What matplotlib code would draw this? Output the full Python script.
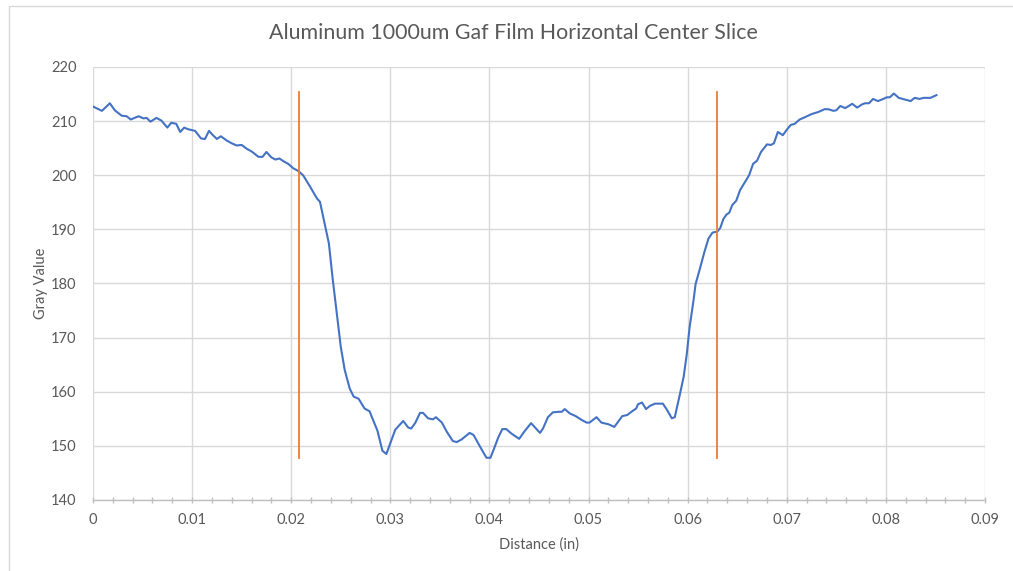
import numpy as np
import matplotlib
matplotlib.use("Agg")
import matplotlib.pyplot as plt
from matplotlib.patches import Rectangle
from matplotlib.ticker import MultipleLocator

plt.rcParams['font.family'] = ['Lato', 'DejaVu Sans']

# profile along the horizontal center line (distance in inches, gray value)
distance = [
    0.0000, 0.0009, 0.0017, 0.0022, 0.0029, 0.0034, 0.0038, 0.0046, 0.0051, 0.0054,
    0.0058, 0.0064, 0.0069, 0.0075, 0.0079, 0.0084, 0.0088, 0.0092, 0.0096, 0.0103,
    0.0109, 0.0113, 0.0117, 0.0121, 0.0125, 0.0129, 0.0135, 0.0140, 0.0145, 0.0150,
    0.0155, 0.0160, 0.0167, 0.0171, 0.0175, 0.0180, 0.0184, 0.0188, 0.0193, 0.0197,
    0.0202, 0.0207, 0.0212, 0.0219, 0.0226, 0.0229, 0.0234, 0.0238, 0.0242, 0.0246,
    0.0250, 0.0254, 0.0259, 0.0263, 0.0268, 0.0274, 0.0279, 0.0287, 0.0292, 0.0296,
    0.0305, 0.0313, 0.0318, 0.0321, 0.0325, 0.0330, 0.0333, 0.0338, 0.0343, 0.0346,
    0.0352, 0.0357, 0.0363, 0.0367, 0.0372, 0.0380, 0.0384, 0.0391, 0.0397, 0.0401,
    0.0404, 0.0409, 0.0413, 0.0417, 0.0422, 0.0430, 0.0435, 0.0442, 0.0447, 0.0451,
    0.0454, 0.0459, 0.0464, 0.0470, 0.0473, 0.0476, 0.0481, 0.0487, 0.0493, 0.0498,
    0.0501, 0.0508, 0.0513, 0.0520, 0.0526, 0.0530, 0.0534, 0.0539, 0.0544, 0.0548,
    0.0550, 0.0554, 0.0558, 0.0562, 0.0567, 0.0575, 0.0579, 0.0584, 0.0587, 0.0592,
    0.0596, 0.0599, 0.0602, 0.0606, 0.0608, 0.0612, 0.0617, 0.0621, 0.0625, 0.0630,
    0.0633, 0.0636, 0.0639, 0.0642, 0.0645, 0.0649, 0.0653, 0.0658, 0.0662, 0.0666,
    0.0670, 0.0674, 0.0680, 0.0684, 0.0687, 0.0691, 0.0696, 0.0700, 0.0704, 0.0708,
    0.0713, 0.0718, 0.0725, 0.0732, 0.0738, 0.0742, 0.0747, 0.0750, 0.0754, 0.0759,
    0.0766, 0.0771, 0.0776, 0.0779, 0.0783, 0.0787, 0.0792, 0.0796, 0.0801, 0.0804,
    0.0808, 0.0813, 0.0819, 0.0825, 0.0829, 0.0834, 0.0838, 0.0845, 0.0851,
]
gray_value = [
    212.7, 211.9, 213.3, 212.0, 211.0, 210.9, 210.3, 210.9, 210.5, 210.6,
    209.9, 210.6, 210.1, 208.8, 209.7, 209.5, 208.0, 208.8, 208.5, 208.2,
    206.8, 206.7, 208.2, 207.4, 206.7, 207.2, 206.4, 205.9, 205.5, 205.6,
    204.9, 204.4, 203.4, 203.4, 204.3, 203.3, 202.9, 203.1, 202.5, 202.1,
    201.3, 200.8, 200.0, 197.9, 195.7, 195.1, 190.8, 187.4, 180.6, 174.5,
    168.3, 164.0, 160.6, 159.1, 158.7, 156.9, 156.4, 152.8, 149.1, 148.5,
    153.0, 154.6, 153.4, 153.2, 154.2, 156.1, 156.1, 155.1, 154.9, 155.3,
    154.3, 152.6, 150.9, 150.7, 151.2, 152.4, 152.0, 149.7, 147.8, 147.8,
    149.2, 151.6, 153.1, 153.1, 152.3, 151.3, 152.6, 154.2, 153.2, 152.4,
    153.2, 155.3, 156.2, 156.3, 156.3, 156.8, 156.0, 155.5, 154.8, 154.3,
    154.3, 155.3, 154.3, 154.0, 153.5, 154.5, 155.5, 155.7, 156.4, 156.9,
    157.7, 158.0, 156.8, 157.4, 157.8, 157.8, 156.7, 155.1, 155.3, 159.4,
    162.8, 166.8, 172.0, 177.0, 179.9, 182.5, 185.9, 188.3, 189.4, 189.6,
    190.3, 191.9, 192.7, 193.1, 194.5, 195.3, 197.3, 198.8, 200.0, 202.1,
    202.7, 204.3, 205.7, 205.6, 205.9, 208.0, 207.4, 208.4, 209.3, 209.5,
    210.3, 210.7, 211.3, 211.7, 212.2, 212.2, 211.9, 212.0, 212.8, 212.4,
    213.2, 212.5, 213.1, 213.3, 213.3, 214.1, 213.7, 214.0, 214.4, 214.4,
    215.1, 214.3, 214.0, 213.7, 214.3, 214.1, 214.3, 214.3, 214.8,
]

# vertical markers for the film edges
edge_x = [0.0208, 0.0630]
edge_low = 147.7
edge_high = 215.3

BLUE = '#4472C4'
ORANGE = '#ED7D31'
TEXT = '#595959'
GRID = '#D9D9D9'

fig = plt.figure(figsize=(10.13, 5.71), dpi=100)
ax = fig.add_axes([93 / 1013, 1 - 500 / 571, 892 / 1013, 433 / 571])

# outer chart border
fig.patches.append(Rectangle((9 / 1013, -0.1), 1.2, 1 - 6 / 571 + 0.1,
                             transform=fig.transFigure, fill=False,
                             edgecolor='#D9D9D9', linewidth=1.0))

ax.plot(distance, gray_value, color=BLUE, linewidth=1.5, zorder=3)
for x in edge_x:
    ax.plot([x, x], [edge_low, edge_high], color=ORANGE, linewidth=1.3, zorder=3)

ax.set_xlim(0, 0.09)
ax.set_ylim(140, 220)
xticks = np.arange(0, 0.0901, 0.01).round(2)
ax.set_xticks(xticks)
ax.set_xticklabels([f'{v:g}' for v in xticks])
ax.xaxis.set_minor_locator(MultipleLocator(0.002))
ax.yaxis.set_major_locator(MultipleLocator(10))

ax.grid(True, which='major', color=GRID, linewidth=1.0)
ax.set_axisbelow(True)
for side in ['top', 'right', 'left']:
    ax.spines[side].set_visible(False)
ax.spines['bottom'].set_color('#BFBFBF')
ax.spines['bottom'].set_linewidth(1.0)

ax.tick_params(axis='x', which='both', direction='inout', length=5,
               color='#BFBFBF', width=1.0, labelsize=10.5, labelcolor=TEXT, pad=7)
ax.tick_params(axis='y', length=0, labelsize=10.5, labelcolor=TEXT, pad=12)

ax.set_xlabel('Distance (in)', fontsize=10.5, color=TEXT, labelpad=7)
ax.set_ylabel('Gray Value', fontsize=10.5, color=TEXT, labelpad=2)

fig.text(513 / 1013, 1 - 33 / 571, 'Aluminum 1000um Gaf Film Horizontal Center Slice',
         ha='center', va='center', fontsize=15.4, color=TEXT)

fig.savefig('out.png', dpi=100)
